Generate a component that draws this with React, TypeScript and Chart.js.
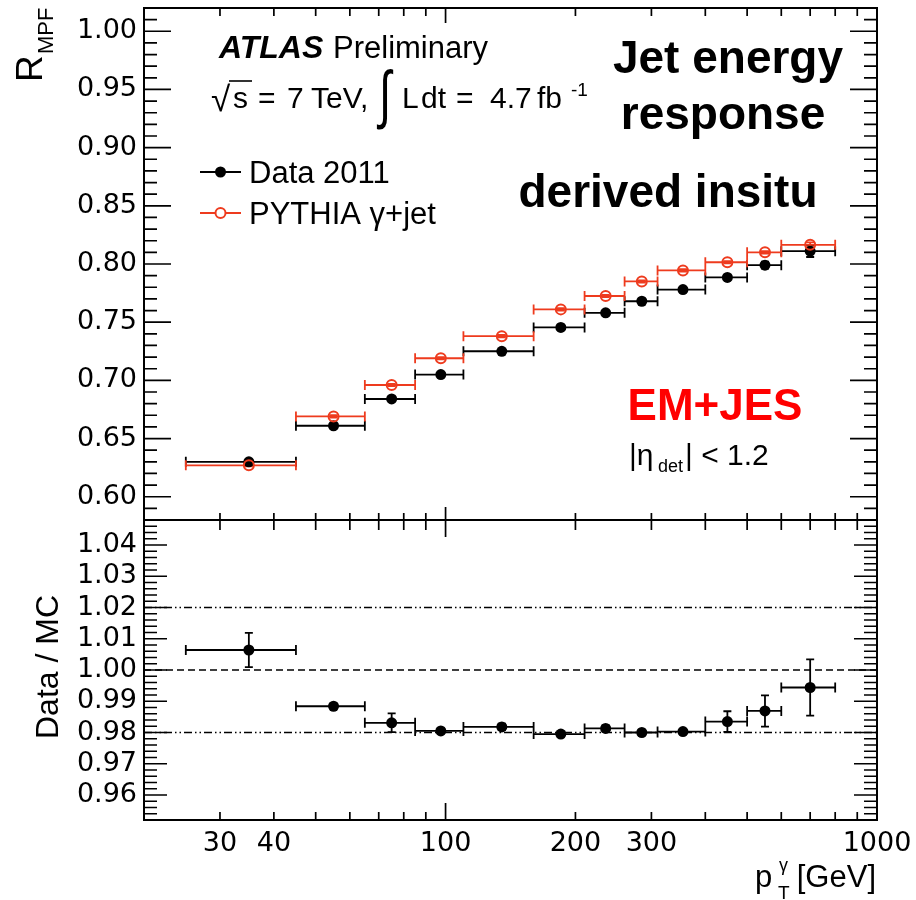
import React, { useEffect, useRef } from 'react';
import { Chart, registerables } from 'chart.js';

Chart.register(...registerables);

// photon pT bins [GeV]
const binLow = [25, 45, 65, 85, 110, 160, 210, 260, 310, 400, 500, 600];
const binHigh = [45, 65, 85, 110, 160, 210, 260, 310, 400, 500, 600, 800];
const binCenter = [35, 55, 75, 97.5, 135, 185, 235, 285, 355, 450, 550, 700];

// MPF jet response
const dataResponse = [0.630, 0.661, 0.684, 0.705, 0.725, 0.7455, 0.758, 0.768, 0.778, 0.7885, 0.799, 0.811];
const dataResponseErr = [0.001, 0.001, 0.001, 0.001, 0.001, 0.001, 0.001, 0.001, 0.001, 0.002, 0.003, 0.005];
const mcResponse = [0.627, 0.669, 0.696, 0.719, 0.738, 0.761, 0.7725, 0.785, 0.7945, 0.8015, 0.810, 0.8165];
const mcResponseErr = [0.001, 0.001, 0.001, 0.001, 0.001, 0.001, 0.001, 0.001, 0.001, 0.001, 0.001, 0.002];

// Data / MC ratio
const ratio = [1.0064, 0.9884, 0.9831, 0.9805, 0.9818, 0.9795, 0.9813, 0.9800, 0.9803, 0.9835, 0.9869, 0.9944];
const ratioErr = [0.0055, 0.0008, 0.003, 0.0008, 0.001, 0.0008, 0.001, 0.0008, 0.0008, 0.0033, 0.005, 0.009];

// reference lines of the ratio panel
const ratioBand = [1.02, 0.98];
const ratioUnity = 1.0;

// labelled ticks
const responseTickLabels = [0.60, 0.65, 0.70, 0.75, 0.80, 0.85, 0.90, 0.95, 1.00];
const ratioTickLabels = [0.96, 0.97, 0.98, 0.99, 1.00, 1.01, 1.02, 1.03, 1.04];
const ptTickLabels = [30, 40, 100, 200, 300, 1000];

const RED = '#ee3b1e';
const ROOT_FONT = '"Liberation Sans", Arial, Helvetica, sans-serif';
const TICK_FONT = '"DejaVu Sans", sans-serif';

const W = 916;
const H = 900;

function steps(a: number, b: number, step: number): number[] {
  const n = Math.round((b - a) / step);
  const out: number[] = [];
  for (let i = 0; i <= n; i++) out.push(+(a + i * step).toFixed(6));
  return out;
}
const isMultiple = (v: number, m: number) => Math.abs(v / m - Math.round(v / m)) < 1e-6;

// tick-mark positions on the log pT axis
const ptTickMarks = [...steps(20, 90, 10), ...steps(100, 900, 100), 1000];

interface FrameCfg {
  yTicks: number[];
  yMajorStep: number;
  yMajorLen: number;
  yMinorLen: number;
  xTopMajor: number;
  xTopMinor: number;
  xBotMajor: number;
  xBotMinor: number;
}

function framePlugin(cfg: FrameCfg) {
  return {
    id: 'rootFrame',
    afterDatasetsDraw(chart: any) {
      const { ctx, chartArea: a, scales } = chart;
      const xs = scales.x;
      const ys = scales.y;
      ctx.save();
      ctx.strokeStyle = '#000';
      ctx.lineWidth = 1.7;
      ctx.beginPath();
      for (const v of cfg.yTicks) {
        const py = ys.getPixelForValue(v);
        const len = isMultiple(v, cfg.yMajorStep) ? cfg.yMajorLen : cfg.yMinorLen;
        ctx.moveTo(a.left, py);
        ctx.lineTo(a.left + len, py);
        ctx.moveTo(a.right, py);
        ctx.lineTo(a.right - len, py);
      }
      for (const v of ptTickMarks) {
        const px = xs.getPixelForValue(v);
        const major = v === 100 || v === 1000;
        ctx.moveTo(px, a.top);
        ctx.lineTo(px, a.top + (major ? cfg.xTopMajor : cfg.xTopMinor));
        ctx.moveTo(px, a.bottom);
        ctx.lineTo(px, a.bottom - (major ? cfg.xBotMajor : cfg.xBotMinor));
      }
      ctx.stroke();
      ctx.lineWidth = 2;
      ctx.strokeRect(a.left, a.top, a.right - a.left, a.bottom - a.top);
      ctx.restore();
    },
  };
}

interface ErrSeries {
  values: number[];
  errors: number[];
  color: string;
}

function errorBarPlugin(series: ErrSeries[]) {
  return {
    id: 'binErrorBars',
    beforeDatasetsDraw(chart: any) {
      const { ctx, scales } = chart;
      const xs = scales.x;
      const ys = scales.y;
      ctx.save();
      ctx.lineWidth = 1.8;
      for (const s of series) {
        ctx.strokeStyle = s.color;
        ctx.beginPath();
        s.values.forEach((v, i) => {
          const py = ys.getPixelForValue(v);
          const x0 = xs.getPixelForValue(binLow[i]);
          const x1 = xs.getPixelForValue(binHigh[i]);
          const px = xs.getPixelForValue(binCenter[i]);
          ctx.moveTo(x0, py);
          ctx.lineTo(x1, py);
          ctx.moveTo(x0, py - 5);
          ctx.lineTo(x0, py + 5);
          ctx.moveTo(x1, py - 5);
          ctx.lineTo(x1, py + 5);
          const yt = ys.getPixelForValue(v + s.errors[i]);
          const yb = ys.getPixelForValue(v - s.errors[i]);
          ctx.moveTo(px, yt);
          ctx.lineTo(px, yb);
          ctx.moveTo(px - 4, yt);
          ctx.lineTo(px + 4, yt);
          ctx.moveTo(px - 4, yb);
          ctx.lineTo(px + 4, yb);
        });
        ctx.stroke();
      }
      ctx.restore();
    },
  };
}

function text(ctx: CanvasRenderingContext2D, s: string, x: number, y: number, font: string, color = '#000', align: CanvasTextAlign = 'left') {
  ctx.font = font;
  ctx.fillStyle = color;
  ctx.textAlign = align;
  ctx.textBaseline = 'alphabetic';
  ctx.fillText(s, x, y);
}

const upperTextPlugin = {
  id: 'upperText',
  afterDraw(chart: any) {
    const ctx: CanvasRenderingContext2D = chart.ctx;
    ctx.save();

    // y-axis title R_MPF
    ctx.save();
    ctx.translate(42, 82);
    ctx.rotate(-Math.PI / 2);
    text(ctx, 'R', 0, 0, `37px ${ROOT_FONT}`);
    text(ctx, 'MPF', 28, 11, `22px ${ROOT_FONT}`);
    ctx.restore();

    // ATLAS label
    text(ctx, 'ATLAS', 219, 58, `italic bold 32px ${ROOT_FONT}`);
    text(ctx, 'Preliminary', 333, 58, `31px ${ROOT_FONT}`);

    // sqrt(s) and integrated luminosity
    const f30 = `30px ${ROOT_FONT}`;
    text(ctx, '\u221A', 211, 111, `35px ${ROOT_FONT}`);
    ctx.strokeStyle = '#000';
    ctx.lineWidth = 1.6;
    ctx.beginPath();
    ctx.moveTo(229, 81);
    ctx.lineTo(252, 81);
    ctx.stroke();
    text(ctx, 's', 233, 108, f30);
    text(ctx, '=', 258, 108, f30);
    text(ctx, '7', 287, 108, f30);
    text(ctx, 'TeV,', 311, 108, f30);
    ctx.save();
    ctx.translate(379, 115.5);
    ctx.scale(1, 1.45);
    text(ctx, '\u222B', 0, 0, `44px ${ROOT_FONT}`);
    ctx.restore();
    text(ctx, 'L', 402, 108, f30);
    text(ctx, 'dt', 421, 108, f30);
    text(ctx, '=', 456, 108, f30);
    text(ctx, '4.7', 490, 108, f30);
    text(ctx, 'fb', 537, 108, f30);
    text(ctx, '-1', 571, 96, `19px ${ROOT_FONT}`);

    // legend
    ctx.lineWidth = 2;
    ctx.strokeStyle = '#000';
    ctx.beginPath();
    ctx.moveTo(200, 172);
    ctx.lineTo(241, 172);
    ctx.stroke();
    ctx.fillStyle = '#000';
    ctx.beginPath();
    ctx.arc(220.5, 172, 5.5, 0, Math.PI * 2);
    ctx.fill();
    text(ctx, 'Data 2011', 249, 183, `31px ${ROOT_FONT}`);

    ctx.strokeStyle = RED;
    ctx.beginPath();
    ctx.moveTo(200, 213);
    ctx.lineTo(215, 213);
    ctx.moveTo(226, 213);
    ctx.lineTo(241, 213);
    ctx.stroke();
    ctx.beginPath();
    ctx.arc(220.5, 213, 5, 0, Math.PI * 2);
    ctx.stroke();
    text(ctx, 'PYTHIA \u03B3+jet', 249, 224, `31px ${ROOT_FONT}`);

    // headline
    const head = `bold 46px ${ROOT_FONT}`;
    text(ctx, 'Jet energy', 728, 73, head, '#000', 'center');
    text(ctx, 'response', 723, 129, head, '#000', 'center');
    text(ctx, 'derived insitu', 668, 207, head, '#000', 'center');

    // calibration scheme
    text(ctx, 'EM+JES', 715, 420, `bold 44px ${ROOT_FONT}`, '#ff0000', 'center');

    // eta range
    text(ctx, '|\u03B7', 629, 465, `30px ${ROOT_FONT}`);
    text(ctx, 'det', 658, 472, `18px ${ROOT_FONT}`);
    text(ctx, '| < 1.2', 685, 465, `30px ${ROOT_FONT}`);

    ctx.restore();
  },
};

const lowerTextPlugin = {
  id: 'lowerText',
  afterDraw(chart: any) {
    const ctx: CanvasRenderingContext2D = chart.ctx;
    ctx.save();
    ctx.save();
    ctx.translate(58, 667);
    ctx.rotate(-Math.PI / 2);
    text(ctx, 'Data / MC', 0, 0, `32px ${ROOT_FONT}`, '#000', 'center');
    ctx.restore();

    text(ctx, 'p', 755, 887, `31px ${ROOT_FONT}`);
    text(ctx, 'T', 778, 899, `19px ${ROOT_FONT}`);
    text(ctx, '\u03B3', 779, 871, `18px ${ROOT_FONT}`);
    text(ctx, '[GeV]', 876, 887, `31px ${ROOT_FONT}`, '#000', 'right');
    ctx.restore();
  },
};

// keep label overhang from shifting the plot frame
const fixWidth = (w: number) => (s: any) => {
  s.width = w;
  s.paddingTop = 0;
  s.paddingBottom = 0;
};
const fixHeight = (h: number) => (s: any) => {
  s.height = h;
  s.paddingLeft = 0;
  s.paddingRight = 0;
};

export default function App() {
  const topRef = useRef<HTMLCanvasElement>(null);
  const botRef = useRef<HTMLCanvasElement>(null);

  useEffect(() => {
    const tickFont = { family: TICK_FONT, size: 27 };

    const upper = new Chart(topRef.current as HTMLCanvasElement, {
      type: 'scatter',
      data: {
        datasets: [
          {
            label: 'PYTHIA \u03B3+jet',
            data: binCenter.map((x, i) => ({ x, y: mcResponse[i] })),
            pointRadius: 5,
            pointBorderWidth: 2,
            pointBackgroundColor: 'rgba(0,0,0,0)',
            pointBorderColor: RED,
            order: 1,
          },
          {
            label: 'Data 2011',
            data: binCenter.map((x, i) => ({ x, y: dataResponse[i] })),
            pointRadius: 5.5,
            pointBorderWidth: 0,
            pointBackgroundColor: '#000',
            pointBorderColor: '#000',
            order: 2,
          },
        ],
      },
      options: {
        responsive: false,
        animation: false,
        devicePixelRatio: 1,
        events: [],
        layout: { padding: { left: 0, right: 39, top: 8, bottom: 380 } },
        scales: {
          x: { type: 'logarithmic', min: 20, max: 1000, display: false },
          y: {
            type: 'linear',
            min: 0.58,
            max: 1.02,
            afterFit: fixWidth(144),
            afterBuildTicks: (s: any) => {
              s.ticks = responseTickLabels.map((value) => ({ value }));
            },
            grid: { display: false, drawTicks: false },
            border: { display: false },
            ticks: {
              color: '#000',
              font: tickFont,
              padding: 7,
              callback: (v: any) => Number(v).toFixed(2),
            },
          },
        },
        plugins: { legend: { display: false }, tooltip: { enabled: false } },
      },
      plugins: [
        errorBarPlugin([
          { values: dataResponse, errors: dataResponseErr, color: '#000' },
          { values: mcResponse, errors: mcResponseErr, color: RED },
        ]),
        framePlugin({
          yTicks: steps(0.58, 1.02, 0.01),
          yMajorStep: 0.05,
          yMajorLen: 27,
          yMinorLen: 13,
          xTopMajor: 15,
          xTopMinor: 8,
          xBotMajor: 13,
          xBotMinor: 7,
        }),
        upperTextPlugin,
      ],
    } as any);

    const refLine = (y: number, dash: number[]) => ({
      type: 'line',
      data: [
        { x: 20, y },
        { x: 1000, y },
      ],
      showLine: true,
      borderColor: '#000',
      borderWidth: 1.4,
      borderDash: dash,
      pointRadius: 0,
      order: 5,
    });

    const lower = new Chart(botRef.current as HTMLCanvasElement, {
      type: 'scatter',
      data: {
        datasets: [
          {
            label: 'Data / MC',
            data: binCenter.map((x, i) => ({ x, y: ratio[i] })),
            pointRadius: 5.5,
            pointBorderWidth: 0,
            pointBackgroundColor: '#000',
            pointBorderColor: '#000',
            order: 1,
          },
          refLine(ratioUnity, [7, 4]),
          ...ratioBand.map((y) => refLine(y, [8, 3, 1.5, 3, 1.5, 3])),
        ],
      },
      options: {
        responsive: false,
        animation: false,
        devicePixelRatio: 1,
        events: [],
        layout: { padding: { left: 0, right: 39, top: 520, bottom: 0 } },
        scales: {
          x: {
            type: 'logarithmic',
            min: 20,
            max: 1000,
            afterFit: fixHeight(80),
            afterBuildTicks: (s: any) => {
              s.ticks = ptTickLabels.map((value) => ({ value }));
            },
            grid: { display: false, drawTicks: false },
            border: { display: false },
            ticks: {
              color: '#000',
              font: tickFont,
              padding: 8,
              autoSkip: false,
              maxRotation: 0,
              minRotation: 0,
              callback: (v: any) => String(v),
            },
          },
          y: {
            type: 'linear',
            min: 0.952,
            max: 1.048,
            afterFit: fixWidth(144),
            afterBuildTicks: (s: any) => {
              s.ticks = ratioTickLabels.map((value) => ({ value }));
            },
            grid: { display: false, drawTicks: false },
            border: { display: false },
            ticks: {
              color: '#000',
              font: tickFont,
              padding: 7,
              callback: (v: any) => Number(v).toFixed(2),
            },
          },
        },
        plugins: { legend: { display: false }, tooltip: { enabled: false } },
      },
      plugins: [
        errorBarPlugin([{ values: ratio, errors: ratioErr, color: '#000' }]),
        framePlugin({
          yTicks: steps(0.952, 1.048, 0.002),
          yMajorStep: 0.01,
          yMajorLen: 23,
          yMinorLen: 13,
          xTopMajor: 17,
          xTopMinor: 10,
          xBotMajor: 17,
          xBotMinor: 8,
        }),
        lowerTextPlugin,
      ],
    } as any);

    return () => {
      upper.destroy();
      lower.destroy();
    };
  }, []);

  return (
    <div style={{ position: 'absolute', left: 0, top: 0, width: W, height: H, background: '#fff' }}>
      <canvas ref={topRef} width={W} height={H} style={{ position: 'absolute', left: 0, top: 0 }} />
      <canvas ref={botRef} width={W} height={H} style={{ position: 'absolute', left: 0, top: 0 }} />
    </div>
  );
}
